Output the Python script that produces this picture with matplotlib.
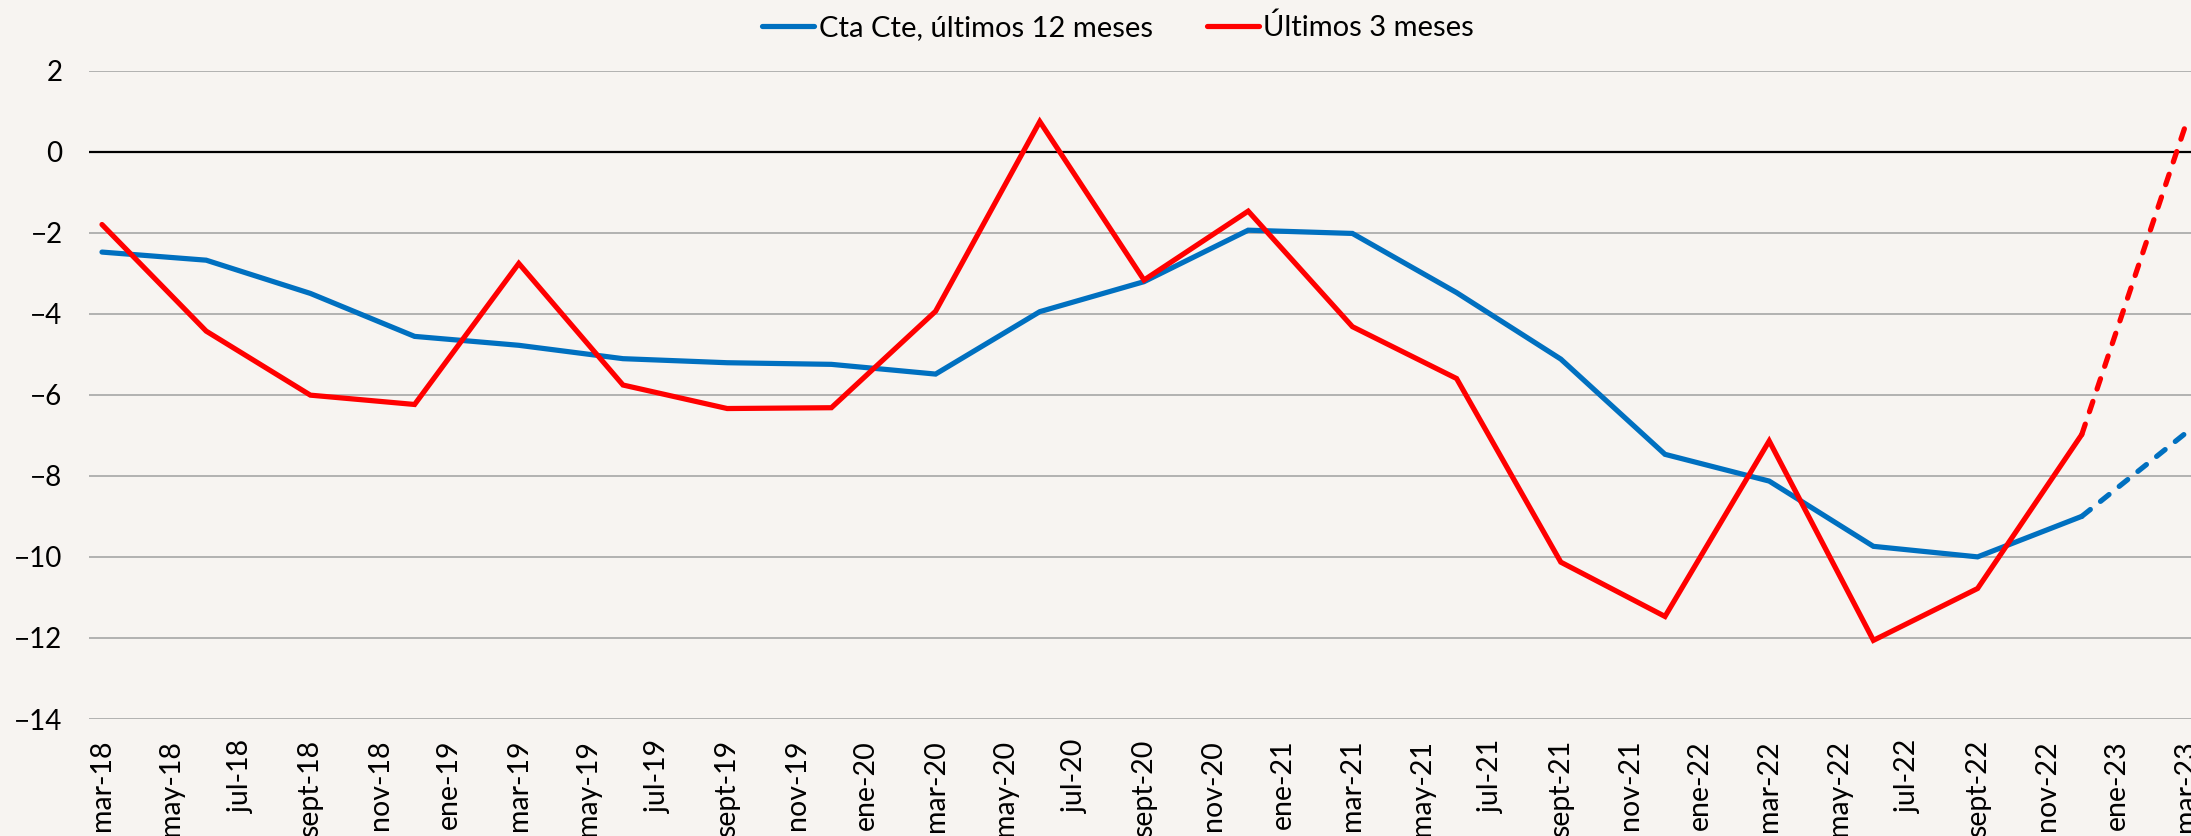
import numpy as np
import matplotlib.pyplot as plt

plt.rcParams['font.family'] = ['Lato', 'DejaVu Sans']

# Cuenta corriente (% PIB), datos trimestrales mar-18 a mar-23
trimestres = ['mar-18', 'jun-18', 'sept-18', 'dic-18', 'mar-19', 'jun-19', 'sept-19',
              'dic-19', 'mar-20', 'jun-20', 'sept-20', 'dic-20', 'mar-21', 'jun-21',
              'sept-21', 'dic-21', 'mar-22', 'jun-22', 'sept-22', 'dic-22', 'mar-23']
cta_12m = [-2.48, -2.68, -3.50, -4.56, -4.78, -5.11, -5.21, -5.25, -5.49, -3.95, -3.21,
           -1.94, -2.02, -3.48, -5.12, -7.47, -8.13, -9.74, -10.00, -9.00, -6.94]
ult_3m = [-1.80, -4.43, -6.01, -6.24, -2.76, -5.76, -6.34, -6.32, -3.94, 0.74, -3.17,
          -1.47, -4.32, -5.60, -10.13, -11.47, -7.14, -12.06, -10.78, -6.98, 0.68]

etiquetas = ['mar-18', 'may-18', 'jul-18', 'sept-18', 'nov-18',
             'ene-19', 'mar-19', 'may-19', 'jul-19', 'sept-19', 'nov-19',
             'ene-20', 'mar-20', 'may-20', 'jul-20', 'sept-20', 'nov-20',
             'ene-21', 'mar-21', 'may-21', 'jul-21', 'sept-21', 'nov-21',
             'ene-22', 'mar-22', 'may-22', 'jul-22', 'sept-22', 'nov-22',
             'ene-23', 'mar-23']

fondo = '#F7F4F1'
azul = '#0070C0'
rojo = '#FF0000'

# eje x en meses desde mar-18
mes = np.arange(len(trimestres)) * 3
mes_etq = np.arange(len(etiquetas)) * 2

fig = plt.figure(figsize=(21.91, 8.36), dpi=100, facecolor=fondo)
ax = fig.add_axes([89 / 2191, 117 / 836, 1 - 89 / 2191, 648.5 / 836])
ax.set_facecolor(fondo)

lw = 3.75
guion = (2.1, 2.5)
# tramo observado (continuo) y ultimo trimestre (discontinuo)
ax.plot(mes[:-1], cta_12m[:-1], color=azul, lw=lw, solid_capstyle='round',
        solid_joinstyle='miter', zorder=3, label='Cta Cte, últimos 12 meses')
ax.plot(mes[-2:], cta_12m[-2:], color=azul, lw=lw, dashes=guion,
        dash_capstyle='round', zorder=3)
ax.plot(mes[:-1], ult_3m[:-1], color=rojo, lw=lw, solid_capstyle='round',
        solid_joinstyle='miter', zorder=4, label='Últimos 3 meses')
ax.plot(mes[-2:], ult_3m[-2:], color=rojo, lw=lw, dashes=guion,
        dash_capstyle='round', zorder=4)

ax.axhline(0, color='black', lw=1.6, zorder=2)

ax.set_ylim(-14, 2)
ax.set_yticks(np.arange(-14, 3, 2))
ax.set_xlim(-0.374, 60.144)
ax.set_xticks(mes_etq)
ax.set_xticklabels(etiquetas, rotation=90)
ax.yaxis.grid(True, color='#A6A6A6', lw=1.2, zorder=1)
ax.set_axisbelow(True)

for s in ax.spines.values():
    s.set_visible(False)
ax.tick_params(axis='y', length=0, pad=19, labelsize=20)
ax.tick_params(axis='x', length=0, pad=15, labelsize=20.5)

fig.legend(loc='center', bbox_to_anchor=(1118 / 2191, 1 - 27 / 836), ncol=2,
           frameon=False, fontsize=21, handlelength=1.8, handletextpad=0.15,
           columnspacing=1.85, borderpad=0)

fig.savefig('out.png', dpi=100, facecolor=fondo)
